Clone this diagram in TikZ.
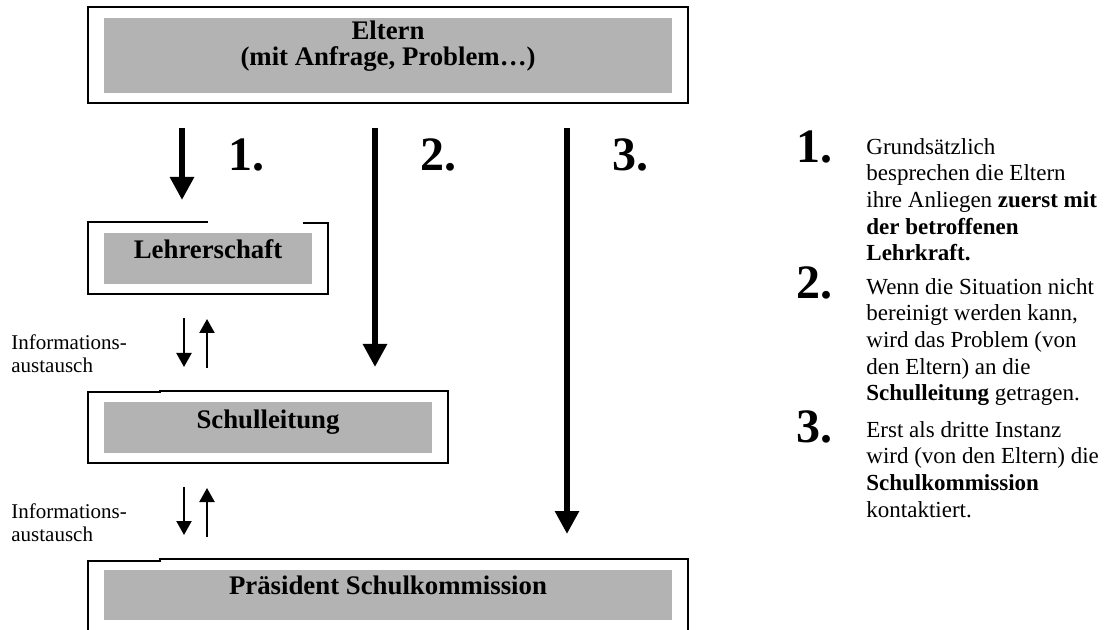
\documentclass[tikz,border=0pt]{standalone}
\usepackage{fontspec}
\setmainfont{Liberation Serif}
\usetikzlibrary{arrows.meta}
\definecolor{boxgray}{RGB}{179,179,179}
\begin{document}
\begin{tikzpicture}[x=0.5pt,y=-0.5pt,
  frame/.style={line width=0.8pt, line cap=rect},
  boxtext/.style={inner sep=0pt, anchor=base, font=\fontsize{13.4}{13}\selectfont\bfseries, align=center},
  bignum/.style={inner sep=0pt, anchor=base west, font=\fontsize{24}{24}\selectfont\bfseries},
  bigarrow/.style={line width=3.3pt, -{Triangle[length=11.5pt,width=11.5pt]}},
  smallarrow/.style={line width=1.1pt, -{Triangle[length=7pt,width=7.5pt]}},
  infotext/.style={inner sep=0pt, anchor=north west, align=left, font=\fontsize{10.5}{11.5}\selectfont},
  bodytext/.style={inner sep=0pt, anchor=north west, align=left, font=\fontsize{11.5}{13.3}\selectfont},
]
\useasboundingbox (0,0) rectangle (1107,630);

% gray fills
\fill[boxgray] (104,18) rectangle (672,93);
\fill[boxgray] (104,233) rectangle (312,284);
\fill[boxgray] (104,402) rectangle (432,453);
\fill[boxgray] (104,570) rectangle (672,620);

% frames
\draw[frame] (88,7) rectangle (688,103);
\draw[frame] (88,222) -- (207,222);
\draw[frame] (304,223) -- (328,223) -- (328,294) -- (88,294) -- (88,222);
\draw[frame] (160,392) -- (88,392) -- (88,463) -- (448,463) -- (448,391) -- (160,391);
\draw[frame] (88,630) -- (88,561) -- (160,561);
\draw[frame] (160,559) -- (688,559) -- (688,630);

% box texts
\node[boxtext] (eltern) at (388,66) {Eltern\\(mit Anfrage, Problem…)};
\node[boxtext] (lehrer) at (208,259) {Lehrerschaft};
\node[boxtext] (schull) at (268,428) {Schulleitung};
\node[boxtext] (praes) at (388,594) {Präsident Schulkommission};

% big arrows
\coordinate (a1s) at (182,128); \coordinate (a1e) at (182,200);
\coordinate (a2s) at (375,128); \coordinate (a2e) at (375,367);
\coordinate (a3s) at (567,128); \coordinate (a3e) at (567,534);
\draw[bigarrow] (a1s) -- (a1e);
\draw[bigarrow] (a2s) -- (a2e);
\draw[bigarrow] (a3s) -- (a3e);
\node[bignum] (n1) at (228,171) {1.};
\node[bignum] (n2) at (420,171) {2.};
\node[bignum] (n3) at (612,171) {3.};

% information exchange arrows
\coordinate (i1a) at (184,318); \coordinate (i1b) at (184,367);
\coordinate (i1c) at (207,368); \coordinate (i1d) at (207,319);
\draw[smallarrow] (i1a) -- (i1b);
\draw[smallarrow] (i1c) -- (i1d);
\node[infotext] (info1) at (11,334) {Informations-\\austausch};

\coordinate (i2a) at (184,487); \coordinate (i2b) at (184,535);
\coordinate (i2c) at (207,537); \coordinate (i2d) at (207,488);
\draw[smallarrow] (i2a) -- (i2b);
\draw[smallarrow] (i2c) -- (i2d);
\node[infotext] (info2) at (11,503) {Informations-\\austausch};

% right column
\node[bignum] (r1) at (796,163) {1.};
\node[bodytext] (t1) at (866,138) {Grundsätzlich\\besprechen die Eltern\\ihre Anliegen \textbf{zuerst mit}\\\textbf{der betroffenen}\\\textbf{Lehrkraft.}};
\node[bignum] (r2) at (796,299) {2.};
\node[bodytext] (t2) at (866,278) {Wenn die Situation nicht\\bereinigt werden kann,\\wird das Problem (von\\den Eltern) an die\\\textbf{Schulleitung} getragen.};
\node[bignum] (r3) at (796,442) {3.};
\node[bodytext] (t3) at (866,421) {Erst als dritte Instanz\\wird (von den Eltern) die\\\textbf{Schulkommission}\\kontaktiert.};
\end{tikzpicture}
\end{document}
